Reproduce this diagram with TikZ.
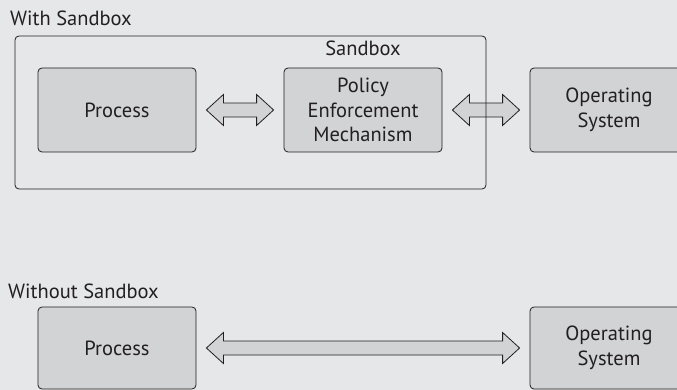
\documentclass[tikz,border=0pt]{standalone}
\usepackage{fontspec}
\setmainfont{PT Sans}
\usetikzlibrary{calc}
\definecolor{sbback}{HTML}{E6E7E8}
\definecolor{sbfill}{HTML}{D1D3D4}
\definecolor{sbink}{HTML}{231F20}

% fat two-headed arrow between two boxes
\newcommand{\fatarrow}[2]{%
  \draw[sbink,fill=sbfill,line width=.8pt,line join=miter]
    let \p1=($(#1.east)+(10,0)$), \p2=($(#2.west)+(-10,0)$) in
    (\x1,\y1) -- (\x1+17pt,\y1+15.5pt) -- (\x1+17pt,\y1+7pt)
    -- (\x2-17pt,\y1+7pt) -- (\x2-17pt,\y1+15.5pt) -- (\x2,\y1)
    -- (\x2-17pt,\y1-15.5pt) -- (\x2-17pt,\y1-7pt)
    -- (\x1+17pt,\y1-7pt) -- (\x1+17pt,\y1-15.5pt) -- cycle;}

\begin{document}
\begin{tikzpicture}[x=1pt,y=-1pt,
    sbbox/.style={draw=sbink,fill=sbfill,line width=.8pt,rounded corners=4pt,
      minimum width=158pt,minimum height=84pt,inner sep=0pt,align=center,
      font=\fontsize{20.5}{24.5}\selectfont,text=sbink},
    sblabel/.style={anchor=base west,inner sep=0pt,text=sbink,
      font=\fontsize{20.5}{24.5}\selectfont}]
    \useasboundingbox (0,0) rectangle (677,390);
    \clip (0,0) rectangle (677,390);
    \fill[sbback] (0,0) rectangle (677,390);

    % with sandbox
    \node[sblabel] (withlbl) at (10,26) {With Sandbox};
    \node[sbbox] (proc) at (117,110) {Process};
    \node[sbbox] (pem) at (363,110) {Policy\\Enforcement\\Mechanism};
    \node[sbbox] (os) at (609,110) {Operating\\System};
    \fatarrow{proc}{pem}
    \fatarrow{pem}{os}
    \draw[sbink,line width=.8pt,rounded corners=4pt] (15,36) rectangle (486,189);
    \node[anchor=base,inner sep=0pt,text=sbink,
      font=\fontsize{20.5}{24.5}\selectfont] (sblbl) at (363,56) {Sandbox};

    % without sandbox
    \node[sblabel] (withoutlbl) at (8,298) {Without Sandbox};
    \node[sbbox,minimum height=82pt] (proc2) at (117,348) {Process};
    \node[sbbox,minimum height=82pt] (os2) at (609,348) {Operating\\System};
    \fatarrow{proc2}{os2}
\end{tikzpicture}
\end{document}
